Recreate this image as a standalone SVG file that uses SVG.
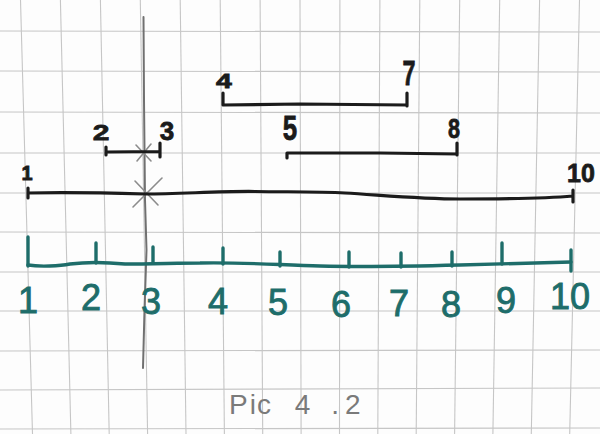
<svg xmlns="http://www.w3.org/2000/svg" width="600" height="434" viewBox="0 0 600 434">
<style>
.grid line{stroke:#c6c6c6;stroke-width:1.1}
.pencil{stroke:#707070;stroke-width:2;fill:none;stroke-linecap:round}
.cross{stroke:#8c8c8c;stroke-width:1.6;fill:none;stroke-linecap:round}
.ink{stroke:#1b1b1b;stroke-width:3.2;fill:none;stroke-linecap:round;stroke-linejoin:round}
.teal{stroke:#1e6d6a;stroke-width:3.4;fill:none;stroke-linecap:round;stroke-linejoin:round}
.lbl{font-family:"Liberation Sans",Arial,sans-serif;font-weight:bold;fill:#1b1b1b;stroke:#1b1b1b;stroke-width:0.8;text-anchor:middle}
.num{font-family:"Liberation Sans",Arial,sans-serif;font-size:36px;fill:#1e6d6a;stroke:#1e6d6a;stroke-width:0.9;text-anchor:middle}
.cap{font-family:"Liberation Sans",Arial,sans-serif;font-size:28px;fill:#7a7a7a}
</style>
<rect width="600" height="434" fill="#fdfdfd"/>
<g class="grid" id="grid">
<line x1="20.5" y1="0" x2="32.5" y2="434"/>
<line x1="60.4" y1="0" x2="70.9" y2="434"/>
<line x1="100.4" y1="0" x2="109.2" y2="434"/>
<line x1="140.3" y1="0" x2="147.6" y2="434"/>
<line x1="180.2" y1="0" x2="186" y2="434"/>
<line x1="220.2" y1="0" x2="224.4" y2="434"/>
<line x1="260.1" y1="0" x2="262.7" y2="434"/>
<line x1="300" y1="0" x2="301.1" y2="434"/>
<line x1="339.9" y1="0" x2="339.5" y2="434"/>
<line x1="379.9" y1="0" x2="377.8" y2="434"/>
<line x1="419.8" y1="0" x2="416.2" y2="434"/>
<line x1="459.7" y1="0" x2="454.6" y2="434"/>
<line x1="499.7" y1="0" x2="492.9" y2="434"/>
<line x1="539.6" y1="0" x2="531.3" y2="434"/>
<line x1="579.5" y1="0" x2="569.7" y2="434"/>
<line x1="0" y1="31" x2="600" y2="32"/>
<line x1="0" y1="71" x2="600" y2="72"/>
<line x1="0" y1="112" x2="600" y2="113"/>
<line x1="0" y1="153" x2="600" y2="153"/>
<line x1="0" y1="193" x2="600" y2="193"/>
<line x1="0" y1="232" x2="600" y2="233"/>
<line x1="0" y1="272" x2="600" y2="272"/>
<line x1="0" y1="311" x2="600" y2="311"/>
<line x1="0" y1="351" x2="600" y2="350"/>
<line x1="0" y1="390" x2="600" y2="388"/>
<line x1="0" y1="429" x2="600" y2="428"/>
</g>
<g id="pencil-line">
<path class="pencil" d="M143.5,17 L144,100 L145,200 L146.5,250 L144.5,310 L143,368"/>
</g>
<g id="cross-1">
<path class="cross" d="M136,145 L151,161 M137,161 L151,144"/>
</g>
<g id="cross-2">
<path class="cross" d="M135,181 L158,205 M133,207 L162,178"/>
</g>
<g id="seg-2-3">
<path class="ink" d="M106,147 L106,155 M106,152 L160,151.5 M160,143 L160,157"/>
<text class="lbl" x="101" y="140" font-size="24" transform="translate(101 140) scale(1.25 0.95) translate(-101 -140)">2</text>
<text class="lbl" x="167" y="140" font-size="26">3</text>
</g>
<g id="seg-4-7">
<path class="ink" d="M223,93 L223,105 L300,104 L407,105 M407,93 L407,106"/>
<text class="lbl" x="224" y="88" font-size="21" transform="translate(224 88) scale(1.35 1) translate(-224 -88)">4</text>
<text class="lbl" x="409" y="85" font-size="36" transform="translate(409 85) scale(0.65 1) translate(-409 -85)">7</text>
</g>
<g id="seg-5-8">
<path class="ink" d="M287,158 L287,153 L380,153 L457,154 M457,143 L457,155"/>
<text class="lbl" x="290" y="140" font-size="36" transform="translate(290 140) scale(0.72 1) translate(-290 -140)">5</text>
<text class="lbl" x="454" y="138" font-size="27" transform="translate(454 138) scale(0.8 1) translate(-454 -138)">8</text>
</g>
<g id="seg-1-10">
<path class="ink" d="M28,188 L28,198 M28,193 C70,192 110,193 145,194 C180,194 220,191 255,191.5 C290,192 320,191.5 345,193 C380,195 420,199 460,199 C510,199 550,198 573,196 M573,190 L573,202"/>
<text class="lbl" x="27" y="180" font-size="20" font-weight="normal" stroke-width="0.3">1</text>
<text class="lbl" x="581" y="182" font-size="25">10</text>
</g>
<g id="number-line">
<path class="teal" d="M28,265 C40,267 60,266 70,264 C85,262 105,262 125,264 C150,264 180,263 200,263 C240,262 280,265 320,266 C360,267 420,266 460,265 C500,264 540,263 571,262"/>
<path class="teal" d="M28,237 L28,266 M96,243 L96,263 M153,247 L153,263 M223,248 L223,264 M280,252 L280,266 M349,252 L349,267 M401,253 L401,267 M452,252 L452,266 M502,243 L502,264 M571,250 L571,271"/>
</g>
<g id="number-labels">
<text class="num" x="28" y="313">1</text>
<text class="num" x="91" y="310">2</text>
<text class="num" x="151" y="314">3</text>
<text class="num" x="218" y="314">4</text>
<text class="num" x="278" y="315">5</text>
<text class="num" x="341" y="317">6</text>
<text class="num" x="399" y="316">7</text>
<text class="num" x="451" y="317">8</text>
<text class="num" x="506" y="313">9</text>
<text class="num" x="570" y="309">10</text>
</g>
<g id="caption">
<text class="cap" x="229" y="414">P<tspan dx="2">i</tspan><tspan dx="1">c </tspan><tspan dx="16">4</tspan><tspan dx="21">.</tspan><tspan dx="6">2</tspan></text>
</g>
</svg>
